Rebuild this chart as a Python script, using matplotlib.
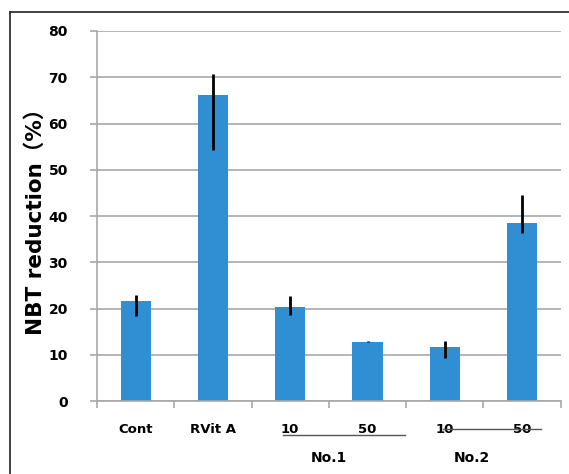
import matplotlib.pyplot as plt
import numpy as np
from matplotlib.lines import Line2D
from matplotlib.transforms import blended_transform_factory

# data
labels = ["Cont", "RVit A", "10", "50", "10", "50"]
values = [21.6, 66.2, 20.3, 12.8, 11.6, 38.5]
err_low = [3.3, 11.9, 1.8, 0.1, 2.2, 2.2]
err_high = [1.3, 4.5, 2.5, 0.2, 1.3, 6.0]
groups = ["No.1", "No.2"]
group_pos = [2.5, 4.35]

fig = plt.figure(figsize=(5.69, 4.74), dpi=100)
ax = fig.add_axes([0.1705, 0.154, 0.815, 0.7806])

x = np.arange(len(labels))
ax.bar(x, values, width=0.39, color="#2F8FD2", zorder=2)
ax.errorbar(x, values, yerr=[err_low, err_high], fmt="none", ecolor="black",
            elinewidth=2, capsize=0, zorder=3)

ax.set_xlim(-0.5, 5.5)
ax.set_ylim(0, 80)
ax.set_yticks(np.arange(0, 81, 10))
ax.yaxis.grid(True, color="#A8A8A8", linewidth=1.2, zorder=0)
ax.set_axisbelow(True)

for s in ["top", "right"]:
    ax.spines[s].set_visible(False)
for s in ["left", "bottom"]:
    ax.spines[s].set_color("#A8A8A8")
    ax.spines[s].set_linewidth(1.2)

ax.set_xticks(np.arange(-0.5, 5.6, 1))
ax.set_xticklabels([])
ax.set_xticks(x, minor=True)
ax.set_xticklabels(labels, minor=True, fontweight="bold", fontsize=9.5)
ax.tick_params(axis="x", which="major", length=5, color="#A8A8A8", width=1.2)
ax.tick_params(axis="x", which="minor", length=0, pad=16)
ax.tick_params(axis="y", length=5, color="#A8A8A8", width=1.2, pad=16,
               labelsize=10)
for t in ax.get_yticklabels():
    t.set_fontweight("bold")

ax.set_ylabel("NBT reduction（%）", fontsize=15.5, fontweight="bold",
              family=["DejaVu Sans", "Noto Sans CJK JP"], labelpad=2)

trans = blended_transform_factory(ax.transData, ax.transAxes)
ax.add_line(Line2D([1.91, 3.49], [-0.093, -0.093], color="#555555",
                   linewidth=1, transform=trans, clip_on=False))
ax.add_line(Line2D([3.98, 5.24], [-0.076, -0.076], color="#555555",
                   linewidth=1, transform=trans, clip_on=False))
for g, p in zip(groups, group_pos):
    ax.text(p, -0.154, g, transform=trans, ha="center", va="center",
            fontsize=10, fontweight="bold")

# frame around the figure (left and top)
fig.add_artist(Line2D([10 / 569, 10 / 569], [0, 1 - 12 / 474], color="#222222",
                      linewidth=1.2, transform=fig.transFigure))
fig.add_artist(Line2D([10 / 569, 1], [1 - 12 / 474, 1 - 12 / 474],
                      color="#222222", linewidth=1.2, transform=fig.transFigure))

fig.savefig("out.png", dpi=100)
